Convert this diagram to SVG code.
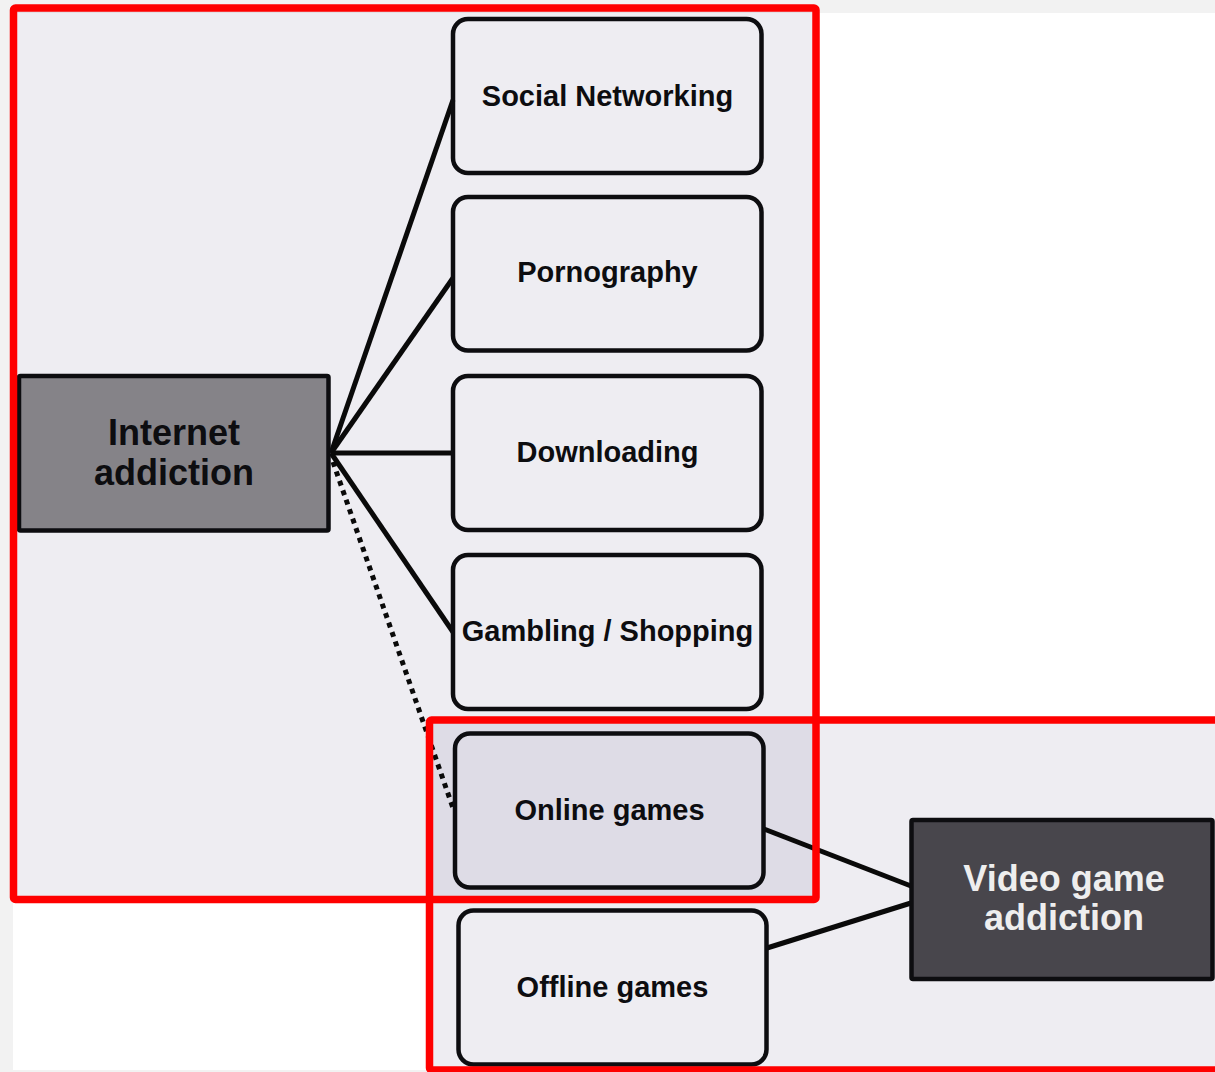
<svg xmlns="http://www.w3.org/2000/svg" width="1215" height="1072" viewBox="0 0 1215 1072">
  <style>
    .region { fill: #5a4a80; fill-opacity: 0.1; stroke: none; }
    .frame { fill: none; stroke: #ff0000; stroke-width: 7.5; }
    .node { fill: none; stroke: #0d0d10; stroke-width: 4.5; }
    .lbl { font-family: "Liberation Sans", Arial, sans-serif; font-weight: bold; font-size: 29px; fill: #0d0d10; text-anchor: middle; }
    .big { font-family: "Liberation Sans", Arial, sans-serif; font-weight: bold; font-size: 36px; text-anchor: middle; }
    .conn { stroke: #0a0a0a; stroke-width: 5; fill: none; }
    .dot { stroke: #0a0a0a; stroke-width: 5; fill: none; stroke-dasharray: 5 5; }
  </style>
  <rect x="0" y="0" width="1215" height="1072" fill="#f2f2f2"/>
  <rect x="13" y="13" width="1202" height="1057" fill="#ffffff"/>

  <g id="regions">
    <rect class="region" x="13.5" y="8" width="802.5" height="891.5"/>
    <rect class="region" x="429.5" y="720" width="800" height="350"/>
  </g>

  <g id="connectors">
    <line class="conn" x1="331" y1="453" x2="453" y2="100"/>
    <line class="conn" x1="331" y1="453" x2="453" y2="278"/>
    <line class="conn" x1="331" y1="453" x2="453" y2="453"/>
    <line class="conn" x1="331" y1="453" x2="453" y2="632"/>
    <line class="dot" x1="333" y1="462" x2="453" y2="808"/>
    <line class="conn" x1="764" y1="829" x2="911" y2="886"/>
    <line class="conn" x1="767" y1="948" x2="911" y2="903"/>
  </g>

  <g id="internet-addiction">
    <rect x="19" y="376" width="309.5" height="154.5" rx="1.5" fill="#858388" stroke="#0d0d10" stroke-width="4.5"/>
    <text class="big" x="174" y="445" fill="#0d0d10">Internet</text>
    <text class="big" x="174" y="485" fill="#0d0d10">addiction</text>
  </g>

  <g id="social-networking">
    <rect class="node" x="453" y="19" width="308.5" height="154" rx="15"/>
    <text class="lbl" x="607.5" y="106">Social Networking</text>
  </g>
  <g id="pornography">
    <rect class="node" x="453" y="197" width="308.5" height="153.5" rx="15"/>
    <text class="lbl" x="607.5" y="282">Pornography</text>
  </g>
  <g id="downloading">
    <rect class="node" x="453" y="376" width="308.5" height="154" rx="15"/>
    <text class="lbl" x="607.5" y="462">Downloading</text>
  </g>
  <g id="gambling-shopping">
    <rect class="node" x="453" y="555" width="308.5" height="154" rx="15"/>
    <text class="lbl" x="607.5" y="641">Gambling / Shopping</text>
  </g>
  <g id="online-games">
    <rect class="node" x="455" y="733.5" width="308.5" height="154" rx="15"/>
    <text class="lbl" x="609.5" y="820">Online games</text>
  </g>
  <g id="offline-games">
    <rect class="node" x="458.5" y="910.5" width="308" height="154" rx="15"/>
    <text class="lbl" x="612.5" y="997">Offline games</text>
  </g>

  <g id="video-game-addiction">
    <rect x="911.5" y="820" width="301" height="159" rx="1.5" fill="#48464c" stroke="#0d0d10" stroke-width="4.5"/>
    <text class="big" x="1064" y="891" fill="#eeeeee">Video game</text>
    <text class="big" x="1064" y="930" fill="#eeeeee">addiction</text>
  </g>

  <g id="frames">
    <rect class="frame" x="13.5" y="8" width="802.5" height="891.5" rx="2"/>
    <rect class="frame" x="429.5" y="720" width="800" height="350" rx="2"/>
  </g>
</svg>
